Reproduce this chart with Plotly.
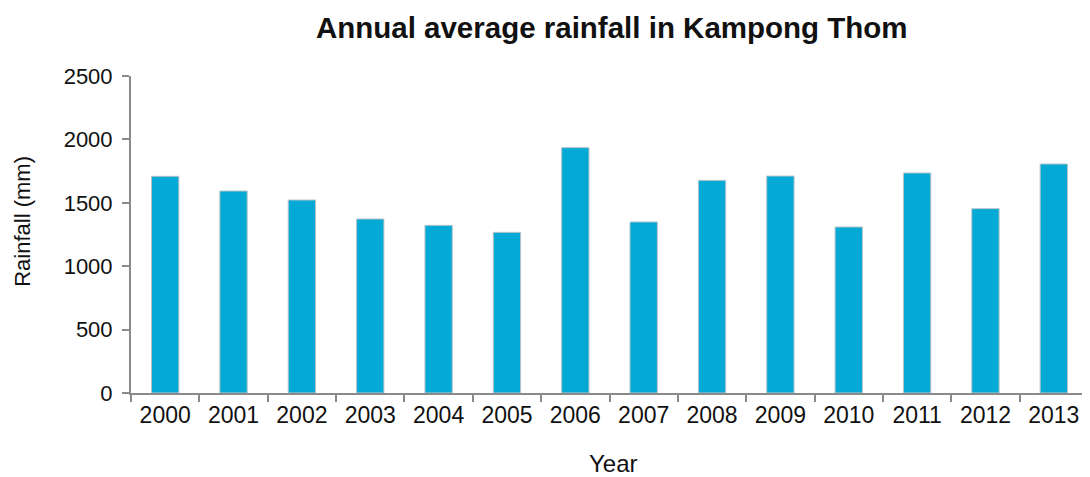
import plotly.graph_objects as go

years = ["2000", "2001", "2002", "2003", "2004", "2005", "2006",
         "2007", "2008", "2009", "2010", "2011", "2012", "2013"]
rainfall = [1709, 1593, 1522, 1372, 1322, 1267, 1935,
            1349, 1677, 1711, 1309, 1735, 1454, 1806]
y_ticks = [0, 500, 1000, 1500, 2000, 2500]

FONT = "Liberation Sans, Arial, sans-serif"
AXIS = "#8a8a8a"

fig = go.Figure(go.Bar(
    x=years, y=rainfall,
    marker=dict(color="#04a9d5", line=dict(color="#b8c4c8", width=1)),
    width=0.4,
))

# page has an 8px body margin; figure is sized/offset to compensate
fig.update_layout(
    width=1082, height=469,
    margin=dict(l=123, r=2, t=68, b=84, autoexpand=False),
    paper_bgcolor="white", plot_bgcolor="white",
    showlegend=False,
    font=dict(family=FONT, size=22, color="#111"),
    title=dict(text="<b>Annual average rainfall in Kampong Thom</b>",
               x=0.558, xanchor="center", y=0.957, yanchor="middle",
               font=dict(family=FONT, size=29.5, color="#111")),
    annotations=[
        dict(text="Year", xref="paper", yref="paper", x=0.5037, y=-0.222,
             xanchor="center", yanchor="middle", showarrow=False,
             font=dict(family=FONT, size=24, color="#111")),
        dict(text="Rainfall (mm)", xref="paper", yref="paper", x=-0.1129, y=0.543,
             xanchor="center", yanchor="middle", showarrow=False, textangle=-90,
             font=dict(family=FONT, size=22, color="#111")),
    ],
)
fig.update_xaxes(
    type="category", showline=True, linecolor=AXIS, linewidth=2,
    ticks="outside", tickson="boundaries", ticklen=7, tickwidth=2, tickcolor=AXIS,
    showgrid=False, tickfont=dict(size=23), automargin=False,
)
fig.update_yaxes(
    range=[0, 2500], tickvals=y_ticks, showline=True, linecolor=AXIS, linewidth=2,
    ticks="outside", ticklen=7, tickwidth=2, tickcolor=AXIS, ticklabelstandoff=5,
    showgrid=False, zeroline=False, tickfont=dict(size=22), automargin=False,
)

fig.write_html("out.html")
